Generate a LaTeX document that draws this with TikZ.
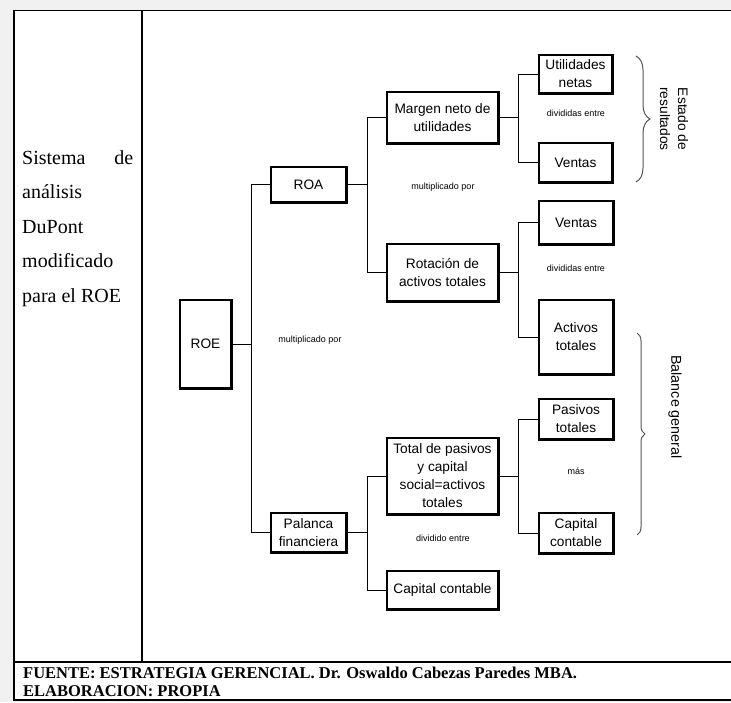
\documentclass[tikz,border=0pt]{standalone}
\usepackage{fontspec}
\setmainfont{Liberation Serif}
\newfontfamily\diagfont{Liberation Sans}
\usetikzlibrary{decorations.pathreplacing}
\definecolor{bggray}{HTML}{F1F1F1}
\definecolor{bracegray}{HTML}{555555}
\tikzset{
  box/.style={draw=black, line width=1.3pt, fill=white, inner sep=1pt, align=center,
    font=\diagfont\fontsize{13.7}{18}\selectfont},
  conn/.style={draw=black, line width=1pt},
  smalllabel/.style={font=\diagfont\fontsize{9}{10}\selectfont, inner sep=0pt},
  sidelabel/.style={font=\diagfont\fontsize{13.8}{18}\selectfont, align=center, rotate=-90, inner sep=0pt},
  bracestyle/.style={draw=bracegray, line width=1pt, decorate},
  framestyle/.style={draw=black, line width=1.3pt}
}
\begin{document}
\begin{tikzpicture}[x=1pt,y=-1pt]
\useasboundingbox (0,0) rectangle (731,702);
\fill[bggray] (0,0) rectangle (731,702);
\fill[white] (14,10) rectangle (731,700);
% frame
\draw[framestyle] (731,10.5) -- (14,10.5) -- (14,700) -- (731,700);
\draw[framestyle, line width=1.6pt] (142,10.5) -- (142,662);
\draw[framestyle, line width=1.1pt] (14,662) -- (731,662);

% left title
\node[anchor=north west, inner sep=0pt, align=left, font=\fontsize{20}{34.6}\selectfont] (title) at (22,150)
  {\makebox[111pt][s]{Sistema de}\\análisis\\DuPont\\modificado\\para el ROE};

% footer
\node[anchor=north west, inner sep=0pt, align=left, font=\bfseries\fontsize{16.5}{18}\selectfont] (foot) at (23,666.5)
  {FUENTE: ESTRATEGIA GERENCIAL. Dr. Oswaldo Cabezas Paredes MBA.\\ELABORACION: PROPIA};

% boxes
\node[box, minimum width=51pt, minimum height=88pt] (roe) at (205.5,344) {ROE};
\node[box, minimum width=75pt, minimum height=35pt] (roa) at (308.5,184.5) {ROA};
\node[box, minimum width=75pt, minimum height=39pt] (pal) at (308.5,532.5) {Palanca\\financiera};
\node[box, minimum width=111pt, minimum height=51pt] (mar) at (442.5,117.5) {Margen neto de\\utilidades};
\node[box, minimum width=111pt, minimum height=57pt] (rot) at (442.5,272.5) {Rotación de\\activos totales};
\node[box, minimum width=111pt, minimum height=76pt] (tot) at (442.5,476) {Total de pasivos\\y capital\\social=activos\\totales};
\node[box, minimum width=111pt, minimum height=38pt] (cap) at (442.5,590) {Capital contable};
\node[box, minimum width=73pt, minimum height=38pt] (uti) at (575.5,74) {Utilidades\\netas};
\node[box, minimum width=73pt, minimum height=39pt] (ven1) at (575.5,162.5) {Ventas};
\node[box, minimum width=74pt, minimum height=43pt] (ven2) at (576,222.5) {Ventas};
\node[box, minimum width=74pt, minimum height=74pt] (act) at (576,337) {Activos\\totales};
\node[box, minimum width=74pt, minimum height=40pt] (pas) at (576,419) {Pasivos\\totales};
\node[box, minimum width=74pt, minimum height=40pt] (capr) at (576,533) {Capital\\contable};

% heavier right/bottom edges
\foreach \n in {roe,roa,pal,mar,rot,tot,cap,uti,ven1,ven2,act,pas,capr}{
  \draw[line width=2.2pt] (\n.north east) -- (\n.south east) -- (\n.south west);
}

% junctions
\coordinate (j1) at (251,0);
\coordinate (j2) at (367,0);
\coordinate (j3) at (518,0);

\draw[conn] (roe.east) -- (roe.east -| j1);
\draw[conn] (roa.west) -- (roa.west -| j1) -- (pal.west -| j1) -- (pal.west);

\draw[conn] (roa.east) -- (roa.east -| j2);
\draw[conn] (mar.west) -- (mar.west -| j2) -- (rot.west -| j2) -- (rot.west);

\draw[conn] (pal.east) -- (pal.east -| j2);
\draw[conn] (tot.west) -- (tot.west -| j2) -- (cap.west -| j2) -- (cap.west);

\draw[conn] (mar.east) -- (mar.east -| j3);
\draw[conn] (uti.west) -- (uti.west -| j3) -- (ven1.west -| j3) -- (ven1.west);

\draw[conn] (rot.east) -- (rot.east -| j3);
\draw[conn] (ven2.west) -- (ven2.west -| j3) -- (act.west -| j3) -- (act.west);

\draw[conn] (tot.east) -- (tot.east -| j3);
\draw[conn] (pas.west) -- (pas.west -| j3) -- (capr.west -| j3) -- (capr.west);

% small labels
\node[smalllabel] (l1) at (310,340) {multiplicado por};
\node[smalllabel] (l2) at (443,187) {multiplicado por};
\node[smalllabel] (l3) at (576,113) {divididas entre};
\node[smalllabel] (l4) at (576,268) {divididas entre};
\node[smalllabel] (l5) at (576,471) {más};
\node[smalllabel] (l6) at (443,538) {dividido entre};

% braces
\coordinate (b1a) at (636,56);
\coordinate (b1b) at (636,182);
\draw[bracestyle, decoration={brace, amplitude=14pt}] (b1a) -- (b1b);
\coordinate (b2a) at (637,333);
\coordinate (b2b) at (637,535);
\draw[bracestyle, decoration={brace, amplitude=8pt}] (b2a) -- (b2b);

\node[sidelabel] (estado) at (674,119) {Estado de\\resultados};
\node[sidelabel, font=\diagfont\fontsize{14.3}{18}\selectfont] (balance) at (675,407) {Balance general};
\end{tikzpicture}
\end{document}
